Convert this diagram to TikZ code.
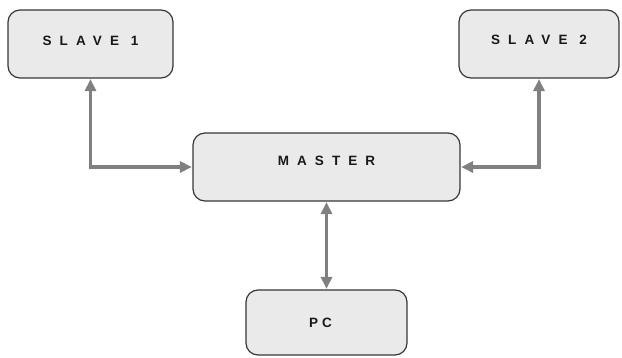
\documentclass[tikz,border=0pt]{standalone}
\usepackage{fontspec}
\setmainfont{Liberation Sans}
\newfontfamily\boxfont[LetterSpace=60, BoldFont={Liberation Sans Bold}]{Liberation Sans}
\newfontfamily\tightfont[LetterSpace=30, BoldFont={Liberation Sans Bold}]{Liberation Sans}
\usetikzlibrary{arrows.meta}
\definecolor{boxfill}{RGB}{234,234,234}
\definecolor{boxline}{RGB}{55,55,55}
\definecolor{linkgray}{RGB}{128,128,128}
\begin{document}
\begin{tikzpicture}[x=1pt,y=-1pt,
  unit/.style={draw=boxline, line width=1.2pt, fill=boxfill, rounded corners=12pt,
    inner sep=0pt, font=\boxfont\bfseries\fontsize{13.5}{15}\selectfont, text=black!90},
  tight/.style={font=\tightfont\bfseries\fontsize{13.5}{15}\selectfont},
  link/.style={draw=linkgray, line width=3.6pt,
    {Triangle[length=12pt,width=11pt]}-{Triangle[length=12pt,width=11pt]}, shorten <=0.5pt, shorten >=0.5pt}]
  \useasboundingbox (0,0) rectangle (622,358);
  \node[unit, minimum width=165pt, minimum height=68pt, text depth=6pt] (slave1) at (90.5,44) {SLAVE 1};
  \node[unit, minimum width=160pt, minimum height=68pt, text depth=8pt] (slave2) at (539,44) {SLAVE 2};
  \node[unit, minimum width=267pt, minimum height=68pt, text depth=12pt] (master) at (326.5,167) {MASTER};
  \node[unit, tight, minimum width=161pt, minimum height=65pt] (pc) at (326.5,322.5) {PC\hspace*{12pt}};
  \draw[link] (slave1.south) |- (master.west);
  \draw[link] (slave2.south) |- (master.east);
  \draw[link] (master.south) -- (pc.north);
\end{tikzpicture}
\end{document}
